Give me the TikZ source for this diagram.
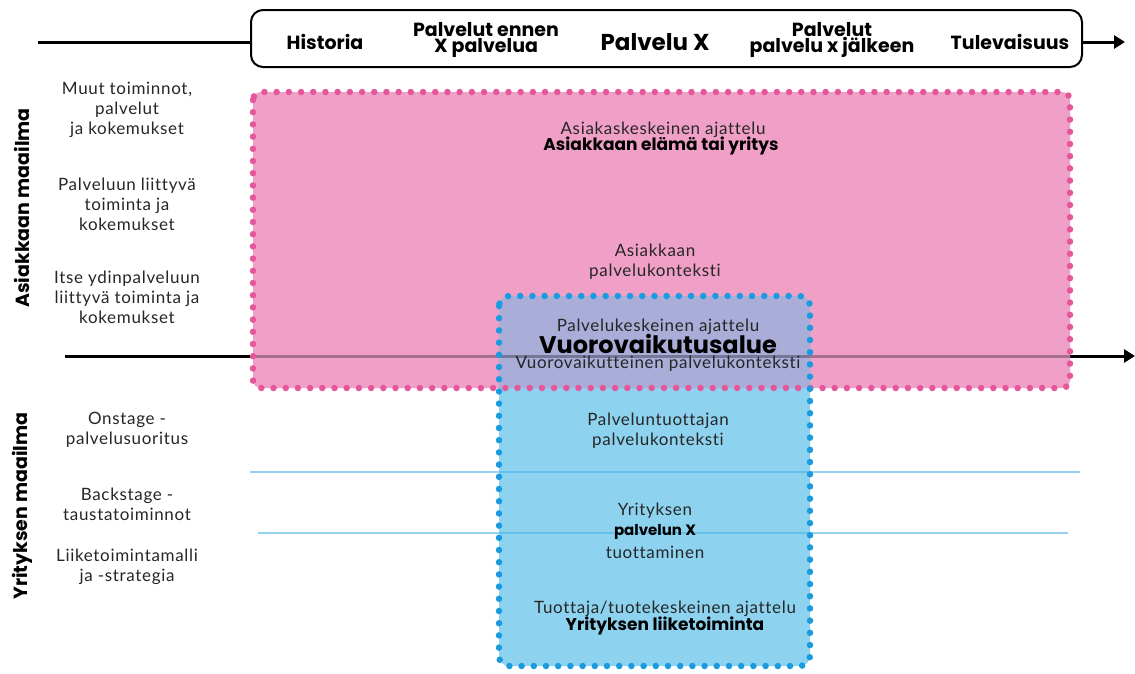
\documentclass[tikz,border=0pt]{standalone}
\usepackage{fontspec}
\setmainfont{Lato}[LetterSpace=4,Ligatures=NoCommon]
\newfontfamily\headfont{Poppins}
\usetikzlibrary{arrows.meta}
\definecolor{pinkfill}{HTML}{F0A0C6}
\definecolor{pinkdot}{HTML}{E5579A}
\definecolor{bluefill}{HTML}{8DD3F0}
\definecolor{bluedot}{HTML}{1A9BE0}
\definecolor{mixfill}{HTML}{A9ADD8}
\definecolor{ink}{HTML}{262626}
\definecolor{laneline}{HTML}{4FB4E6}
\begin{document}
\begin{tikzpicture}[x=1pt,y=-1pt,
  body/.style={font=\fontsize{17}{20}\selectfont, text=ink, align=center, inner sep=0pt},
  head/.style={font=\headfont\bfseries\fontsize{17}{17}\selectfont, align=center, inner sep=0pt},
  tophead/.style={font=\headfont\bfseries\fontsize{19}{16}\selectfont, align=center, inner sep=0pt},
  sidehead/.style={font=\headfont\bfseries\fontsize{19}{19}\selectfont, rotate=90, inner sep=0pt},
  dots/.style={line width=6.5pt, line cap=round, dash pattern=on 0pt off 12.2pt},
  axis/.style={line width=3pt, -{Triangle[length=11pt,width=13pt]}},
  lane/.style={laneline, opacity=0.6, line width=1.6pt}]
\useasboundingbox (0,0) rectangle (1135,673);

% timeline along the top
\coordinate (t0) at (38,42);
\coordinate (t1) at (1125,42);
\draw[axis] (t0) -- (t1);
\draw[line width=2pt, fill=white, rounded corners=12pt] (251,10) rectangle (1082,67);
\node[tophead] (hist) at (325,42) {Historia};
\node[tophead] (ennen) at (486,40) {Palvelut ennen\\X palvelua};
\node[font=\headfont\bfseries\fontsize{23}{23}\selectfont, inner sep=0pt] (px) at (655,42) {Palvelu X};
\node[tophead] (jalk) at (832,40) {Palvelut\\palvelu x jälkeen};
\node[tophead] (tul) at (1010,42) {Tulevaisuus};

% boundary between the two worlds
\coordinate (m0) at (65,356);
\coordinate (m1) at (1135,356);
\coordinate (mA) at (253,356);
\coordinate (mB) at (1070,356);
\draw[axis] (m0) -- (m1);

% customer and company areas
\def\pinkbox{(253,92) rectangle (1070,388)}
\def\bluebox{(499,296) rectangle (810,666)}
\fill[pinkfill, rounded corners=8pt] \pinkbox;
\fill[bluefill, rounded corners=10pt] \bluebox;
\begin{scope}
  \clip[rounded corners=8pt] \pinkbox;
  \fill[mixfill, rounded corners=10pt] \bluebox;
\end{scope}
\draw[black, opacity=0.3, line width=3pt] (mA) -- (mB);

% company lanes
\coordinate (l1a) at (250,472);
\coordinate (l1b) at (1080,472);
\coordinate (l2a) at (258,533);
\coordinate (l2b) at (1068,533);
\draw[lane] (l1a) -- (l1b);
\draw[lane] (l2a) -- (l2b);

% dotted outlines
\draw[pinkdot, dots, rounded corners=8pt] \pinkbox;
\draw[bluedot, dots, rounded corners=10pt] \bluebox;

% texts in the areas
\node[body] (ak) at (663,130) {Asiakaskeskeinen ajattelu};
\node[head] (ael) at (661,146) {Asiakkaan elämä tai yritys};
\node[body] (apk) at (655,262) {Asiakkaan\\palvelukonteksti};
\node[body] (pka) at (658,327) {Palvelukeskeinen ajattelu};
\node[font=\headfont\bfseries\fontsize{24}{24}\selectfont, inner sep=0pt] (vva) at (658,344) {Vuorovaikutusalue};
\node[body] (vpk) at (658,364) {Vuorovaikutteinen palvelukonteksti};
\node[body] (ppk) at (658,431) {Palveluntuottajan\\palvelukonteksti};
\node[body] (yr) at (655,511) {Yrityksen};
\node[head, font=\headfont\bfseries\fontsize{15}{15}\selectfont] (pX) at (655,532) {palvelun X};
\node[body] (tuo) at (655,552) {tuottaminen};
\node[body] (tta) at (665,609) {Tuottaja/tuotekeskeinen ajattelu};
\node[head] (ylt) at (665,626) {Yrityksen liiketoiminta};

% row labels on the left
\node[sidehead] (am) at (22,208) {Asiakkaan maailma};
\node[sidehead] (ym) at (22,506) {Yrityksen maailma};
\node[body] (r1) at (127,110) {Muut toiminnot,\\palvelut\\ja kokemukset};
\node[body] (r2) at (127,204) {Palveluun liittyvä\\toiminta ja\\kokemukset};
\node[body] (r3) at (127,297) {Itse ydinpalveluun\\liittyvä toiminta ja\\kokemukset};
\node[body] (r4) at (127,430) {Onstage -\\palvelusuoritus};
\node[body] (r5) at (127,504) {Backstage -\\taustatoiminnot};
\node[body] (r6) at (127,567) {Liiketoimintamalli\\ja -strategia};
\end{tikzpicture}
\end{document}
